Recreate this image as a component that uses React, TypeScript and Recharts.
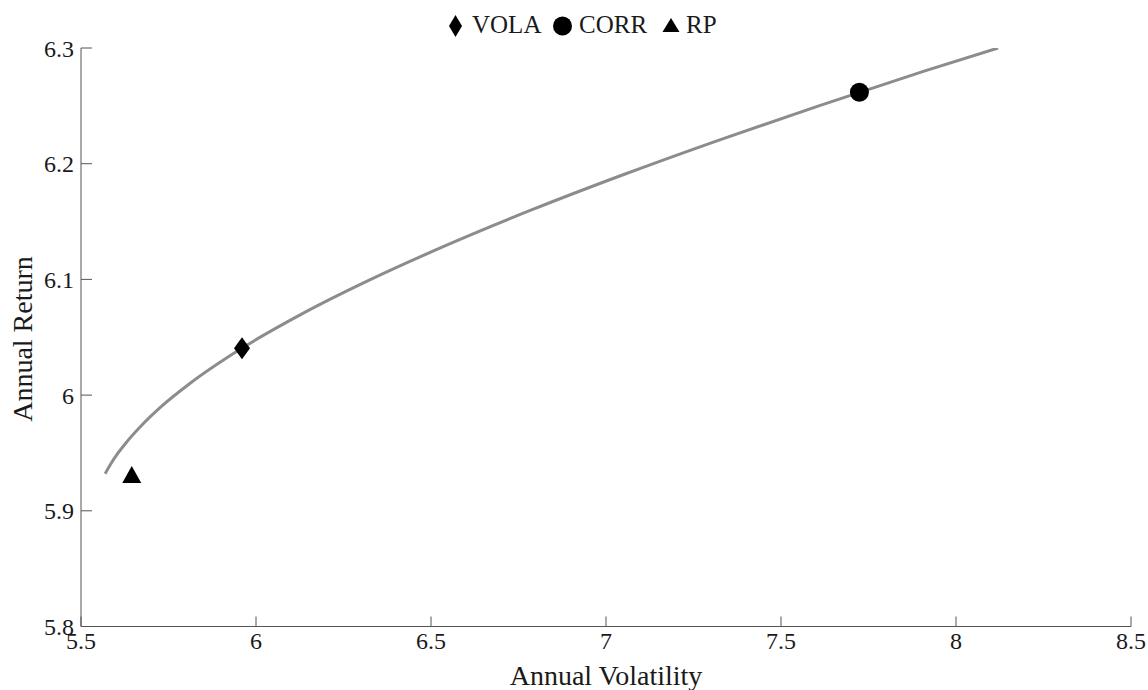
import React from "react";
import { ComposedChart, Line, Scatter, XAxis, YAxis } from "recharts";

const frontierVol = [5.569, 5.584, 5.606, 5.632, 5.677, 5.729, 5.811, 5.957, 6.130, 6.328, 6.548, 6.787, 7.045, 7.319, 7.608, 7.909, 8.120];
const frontierRet = [5.932, 5.940, 5.950, 5.960, 5.975, 5.990, 6.010, 6.040, 6.070, 6.100, 6.130, 6.160, 6.190, 6.220, 6.250, 6.280, 6.300];

const portfolioNames = ["VOLA", "CORR", "RP"];
const portfolioVol = [5.960, 7.724, 5.645];
const portfolioRet = [6.0405, 6.2617, 5.930];

const xTicks = [5.5, 6, 6.5, 7, 7.5, 8, 8.5];
const yTicks = [5.8, 5.9, 6, 6.1, 6.2, 6.3];

const frontier = frontierVol.map((x, i) => ({ x, y: frontierRet[i] }));
const points = portfolioNames.map((name, i) => ({ name, x: portfolioVol[i], y: portfolioRet[i] }));

const FONT = "'Liberation Serif', 'Times New Roman', serif";
const TEXT = "#1a1a1a";
const AXIS = "#555555";

const Diamond = ({ cx, cy }: any) => (
  <polygon points={`${cx},${cy - 11} ${cx + 8},${cy} ${cx},${cy + 11} ${cx - 8},${cy}`} fill="#000" />
);
const Circle = ({ cx, cy }: any) => <circle cx={cx} cy={cy} r={9.5} fill="#000" />;
const Triangle = ({ cx, cy }: any) => (
  <polygon points={`${cx},${cy - 10} ${cx + 9.5},${cy + 7} ${cx - 9.5},${cy + 7}`} fill="#000" />
);

const XTick = ({ x, y, payload }: any) => (
  <text x={x} y={y} dy="0.71em" textAnchor="middle" fontFamily={FONT} fontSize={24} fill={TEXT}>
    {payload.value}
  </text>
);
const YTick = ({ x, y, payload }: any) => (
  <text x={x} y={y} dy="0.355em" textAnchor="end" fontFamily={FONT} fontSize={24} fill={TEXT}>
    {payload.value}
  </text>
);

const LegendBox = () => (
  <svg width={1148} height={48} style={{ position: "absolute", left: 0, top: 0 }}>
    <polygon points="455.5,15 462,26 455.5,37 449,26" fill="#000" />
    <text x={472} y={33} fontFamily={FONT} fontSize={25} fill={TEXT}>{portfolioNames[0]}</text>
    <circle cx={562.5} cy={26} r={9.5} fill="#000" />
    <text x={579} y={33} fontFamily={FONT} fontSize={25} fill={TEXT}>{portfolioNames[1]}</text>
    <polygon points="671,18 679.5,32 662.5,32" fill="#000" />
    <text x={686} y={33} fontFamily={FONT} fontSize={25} fill={TEXT}>{portfolioNames[2]}</text>
  </svg>
);

const YLabel = () => (
  <text
    x={32}
    y={339}
    transform="rotate(-90 32 339)"
    textAnchor="middle"
    fontFamily={FONT}
    fontSize={28}
    fill={TEXT}
  >
    Annual Return
  </text>
);

export default function App() {
  return (
    <div style={{ position: "absolute", left: 0, top: 0, width: 1148, height: 690, background: "#fff", fontFamily: FONT }}>
      <ComposedChart width={1148} height={690} margin={{ top: 48, right: 17, left: 0, bottom: 0 }}>
        <XAxis
          type="number"
          dataKey="x"
          domain={[5.5, 8.5]}
          ticks={xTicks}
          height={63.5}
          allowDataOverflow
          stroke={AXIS}
          tickSize={-10}
          tickMargin={15}
          tick={<XTick />}
          label={{ value: "Annual Volatility", position: "insideBottom", offset: 5, fill: TEXT, fontFamily: FONT, fontSize: 28 }}
        />
        <YAxis
          type="number"
          dataKey="y"
          domain={[5.8, 6.3]}
          ticks={yTicks}
          width={81}
          allowDataOverflow
          stroke={AXIS}
          tickSize={-11}
          tickMargin={18}
          tick={<YTick />}
          label={{ content: () => <YLabel /> }}
        />
        <Line
          data={frontier}
          dataKey="y"
          type="monotone"
          stroke="#8c8c8c"
          strokeWidth={3}
          dot={false}
          activeDot={false}
          isAnimationActive={false}
          legendType="none"
        />
        <Scatter data={[points[0]]} dataKey="y" shape={<Diamond />} isAnimationActive={false} />
        <Scatter data={[points[1]]} dataKey="y" shape={<Circle />} isAnimationActive={false} />
        <Scatter data={[points[2]]} dataKey="y" shape={<Triangle />} isAnimationActive={false} />
      </ComposedChart>
      <LegendBox />
    </div>
  );
}
